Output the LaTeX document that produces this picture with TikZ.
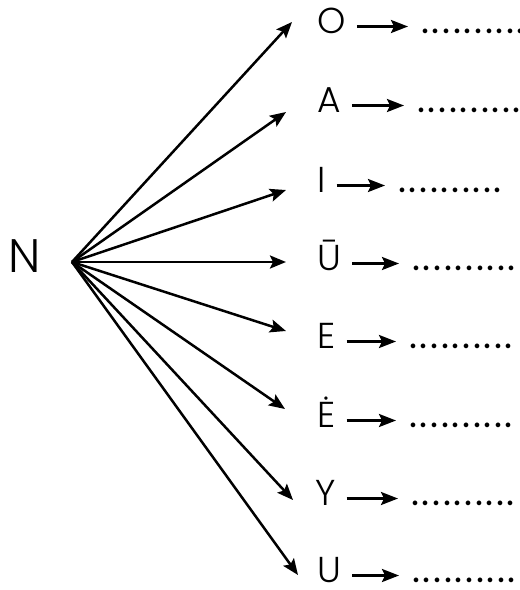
\documentclass[tikz,border=0pt]{standalone}
\usepackage{fontspec}
\setmainfont{Poppins}[UprightFont=* Light]
\newfontfamily\dotfont{Poppins}
\usetikzlibrary{arrows.meta,calc}
\begin{document}
\begin{tikzpicture}[x=1pt,y=-1pt,
  bigarrow/.style={line width=2.5pt,-{Stealth[length=16pt,width=13pt,inset=3pt]}},
  smallarrow/.style={line width=2.5pt,-{Stealth[length=17pt,width=13pt,inset=3pt]}},
  lett/.style={inner sep=0pt,anchor=base west,text depth=0pt,font=\fontsize{36}{36}\selectfont},
  dotrow/.style={inner sep=0pt,anchor=base west,text depth=0pt,font=\dotfont\fontsize{38}{38}\selectfont\addfontfeature{LetterSpace=7}}]
\useasboundingbox (0,0) rectangle (520,590);
\node[inner sep=0pt,anchor=base west,font=\fontsize{47}{47}\selectfont] (N) at (8,272) {N};
\coordinate (src) at (72,262);
\foreach \n/\t/\lx/\b/\tx/\ty/\dx in {
  O/O/317/33/292/22/421,
  A/A/317/112/286/112/417,
  I/I/317/192/286/190/398,
  Ubar/Ū/317/270/286/262/412,
  E/E/317/348/286/331/409,
  Edot/Ė/317/427/285/409/409,
  Y/Y/315/505/293/500/411,
  U/U/317/582/298/575/412}{
  \node[lett] (L\n) at (\lx,\b) {\t};
  \node[dotrow] (D\n) at (\dx,\b) {..........};
  \coordinate (T\n) at (\tx,\ty);
  \draw[bigarrow] (src) -- (T\n);
  \draw[smallarrow] ($(L\n.base east)+(11,-6.5)$) -- ($(D\n.base west)+(-13,-6.5)$);
}
\end{tikzpicture}
\end{document}
